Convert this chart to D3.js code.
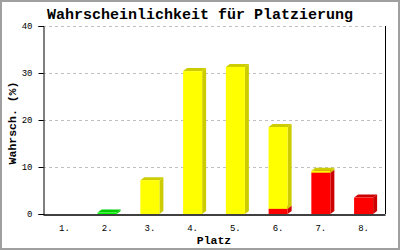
<!DOCTYPE html>
<html><head><meta charset="utf-8">
<script src="https://cdn.jsdelivr.net/npm/d3@7"></script>
<style>body{margin:0;background:#fff}svg{display:block}</style>
</head><body>
<script>
const categories = ["1.","2.","3.","4.","5.","6.","7.","8."];
const seriesNames = ["rot","gelb","grün"];
const redValues = [0,0,0,0,0,1.1,8.8,3.5];
const yellowValues = [0,0,7.2,30.4,31.3,17.4,0.4,0];
const greenValues = [0,0.3,0,0,0,0,0,0];
const yTicks = [0,10,20,30,40];
const colors = {"rot":["#ff0000","#cc0000"],"gelb":["#ffff00","#cccc00"],"grün":["#00ff00","#00cc00"]};

(function(){
const W=400,H=250;
const svg=d3.select("body").append("svg").attr("width",W).attr("height",H);
svg.append("rect").attr("x",1).attr("y",1).attr("width",W-2).attr("height",H-2).attr("fill","#fff").attr("stroke","#a0a0a0").attr("stroke-width",2);

const pL=43,pR=385,pT=26,pB=214;
const x=d3.scaleBand().domain(categories).range([pL,pR]).paddingInner(0.555).paddingOuter(0.278);
const y=d3.scaleLinear().domain([0,40]).range([pB,pT]);
const mono="'Liberation Mono', 'DejaVu Sans Mono', monospace";

// grid
svg.append("g").selectAll("line").data(yTicks.filter(d=>d>0)).join("line")
 .attr("x1",pL).attr("x2",pR).attr("y1",d=>y(d)+0.5).attr("y2",d=>y(d)+0.5)
 .attr("stroke","#c0c0c0").attr("stroke-dasharray","3,3");

// stacked data
const table=categories.map((c,i)=>({cat:c,"rot":redValues[i],"gelb":yellowValues[i],"grün":greenValues[i]}));
const stack=d3.stack().keys(seriesNames)(table);
const dx=4,dy=3;
const bw=x.bandwidth();
const gBars=svg.append("g");
stack.forEach(layer=>{
  const [front,dark]=colors[layer.key];
  layer.forEach(seg=>{
    const v=seg[1]-seg[0];
    if(v<=0) return;
    const x0=x(seg.data.cat), x1=x0+bw;
    const y0=y(seg[0]), y1=y(seg[1]);
    gBars.append("path").attr("d",`M${x1},${y0}L${x1+dx},${y0-dy}L${x1+dx},${y1-dy}L${x1},${y1}Z`).attr("fill",dark);
    gBars.append("path").attr("d",`M${x0},${y1}L${x0+dx},${y1-dy}L${x1+dx},${y1-dy}L${x1},${y1}Z`).attr("fill",dark);
    gBars.append("rect").attr("x",x0).attr("y",y1).attr("width",bw).attr("height",y0-y1).attr("fill",front);
  });
});

// axes
const yAxis=d3.axisLeft(y).tickValues(yTicks).tickSize(5).tickPadding(6);
const gy=svg.append("g").attr("transform",`translate(${pL+0.5},0)`).call(yAxis);
gy.select(".domain").attr("stroke","#000");
gy.selectAll("text").attr("font-family",mono).attr("font-size",9).attr("fill","#000");
const xAxis=d3.axisBottom(x).tickSize(0).tickPadding(10);
const gx=svg.append("g").attr("transform",`translate(0,${pB+0.5})`).call(xAxis);
gx.select(".domain").attr("stroke","#000").attr("stroke-width",1.5);
gx.selectAll("text").attr("font-family",mono).attr("font-size",9).attr("fill","#000");
svg.append("line").attr("x1",pR+0.5).attr("x2",pR+0.5).attr("y1",pT).attr("y2",pB).attr("stroke","#000");

// titles
svg.append("text").attr("x",200).attr("y",19).attr("text-anchor","middle")
 .attr("font-family",mono).attr("font-weight","bold").attr("font-size",15).text("Wahrscheinlichkeit für Platzierung");
svg.append("text").attr("x",(pL+pR)/2).attr("y",244).attr("text-anchor","middle")
 .attr("font-family",mono).attr("font-weight","bold").attr("font-size",11.5).text("Platz");
svg.append("text").attr("transform",`translate(16,${(pT+pB)/2+3}) rotate(-90)`).attr("text-anchor","middle")
 .attr("font-family",mono).attr("font-weight","bold").attr("font-size",11.5).text("Wahrsch. (%)");
})();
</script>
</body></html>
